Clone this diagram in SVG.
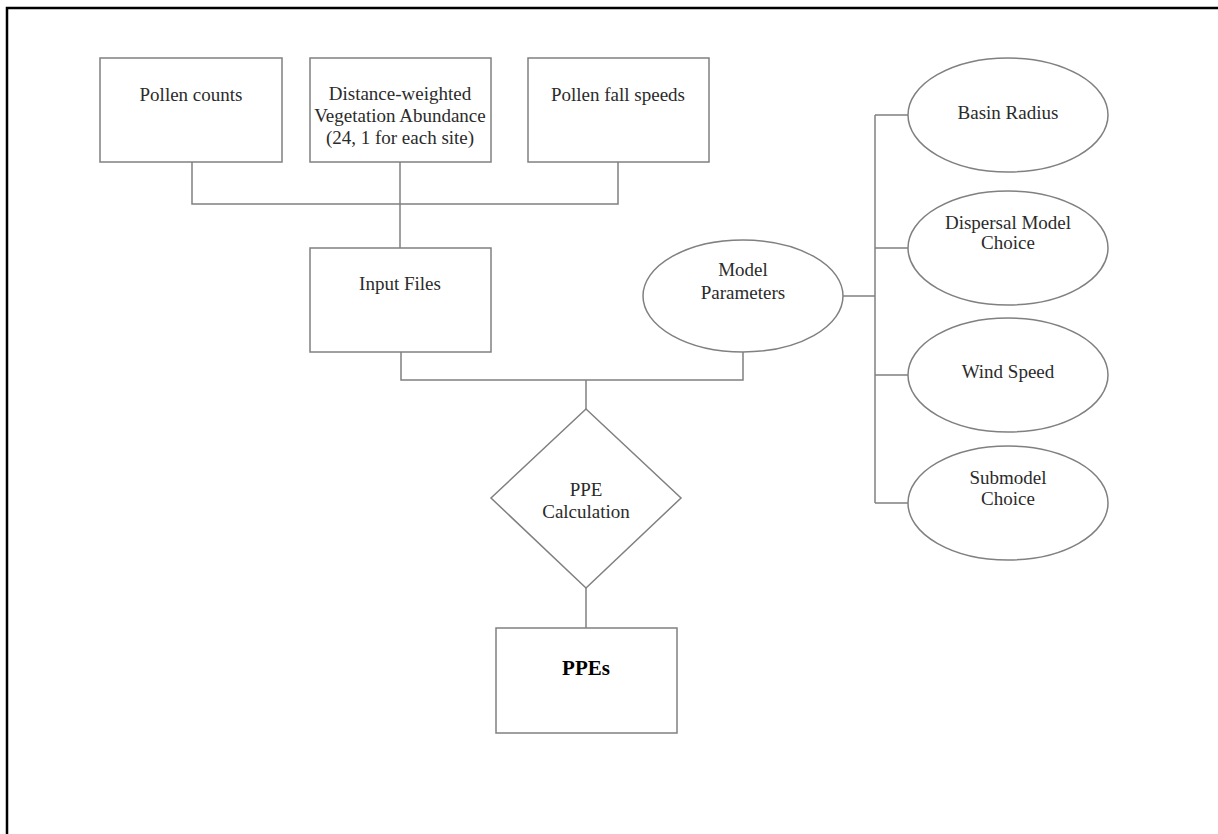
<svg xmlns="http://www.w3.org/2000/svg" width="1218" height="834" viewBox="0 0 1218 834">
<style>
.shape{fill:#fff;stroke:#808080;stroke-width:1.5}
.conn{fill:none;stroke:#808080;stroke-width:1.5}
.t{font-family:"Liberation Serif","Times New Roman",serif;font-size:19px;fill:#2b2b2b;text-anchor:middle}
.b{font-weight:bold;fill:#000;font-size:21px}
</style>
<rect width="1218" height="834" fill="#fff"/>
<path d="M7,834 V8 H1218" fill="none" stroke="#000" stroke-width="2.5"/>
<g id="connectors">
<path class="conn" d="M192,162 V204 H618 V162"/>
<path class="conn" d="M400,162 V248"/>
<path class="conn" d="M401,352 V380 H743 V352"/>
<path class="conn" d="M586,380 V409"/>
<path class="conn" d="M586,588 V628"/>
<path class="conn" d="M843,296 H875"/>
<path class="conn" d="M875,115 V503"/>
<path class="conn" d="M875,115 H908 M875,248 H908 M875,375 H908 M875,503 H908"/>
</g>
<g id="pollen-counts"><rect class="shape" x="100" y="58" width="182" height="104"/><text class="t" x="191" y="101">Pollen counts</text></g>
<g id="vegetation"><rect class="shape" x="310" y="58" width="181" height="104"/><text class="t" x="400" y="100">Distance-weighted</text><text class="t" x="400" y="122">Vegetation Abundance</text><text class="t" x="400" y="144">(24, 1 for each site)</text></g>
<g id="fall-speeds"><rect class="shape" x="528" y="58" width="181" height="104"/><text class="t" x="618" y="101">Pollen fall speeds</text></g>
<g id="input-files"><rect class="shape" x="310" y="248" width="181" height="104"/><text class="t" x="400" y="290">Input Files</text></g>
<g id="model-parameters"><ellipse class="shape" cx="743" cy="296" rx="100" ry="56"/><text class="t" x="743" y="276">Model</text><text class="t" x="743" y="299">Parameters</text></g>
<g id="basin-radius"><ellipse class="shape" cx="1008" cy="115" rx="100" ry="57"/><text class="t" x="1008" y="119">Basin Radius</text></g>
<g id="dispersal"><ellipse class="shape" cx="1008" cy="248" rx="100" ry="57"/><text class="t" x="1008" y="229">Dispersal Model</text><text class="t" x="1008" y="249">Choice</text></g>
<g id="wind-speed"><ellipse class="shape" cx="1008" cy="375" rx="100" ry="57"/><text class="t" x="1008" y="378">Wind Speed</text></g>
<g id="submodel"><ellipse class="shape" cx="1008" cy="503" rx="100" ry="57"/><text class="t" x="1008" y="484">Submodel</text><text class="t" x="1008" y="505">Choice</text></g>
<g id="ppe-calculation"><polygon class="shape" points="586,409 681,498 586,588 491,498"/><text class="t" x="586" y="496">PPE</text><text class="t" x="586" y="518">Calculation</text></g>
<g id="ppes"><rect class="shape" x="496" y="628" width="181" height="105"/><text class="t b" x="586" y="675">PPEs</text></g>
</svg>
